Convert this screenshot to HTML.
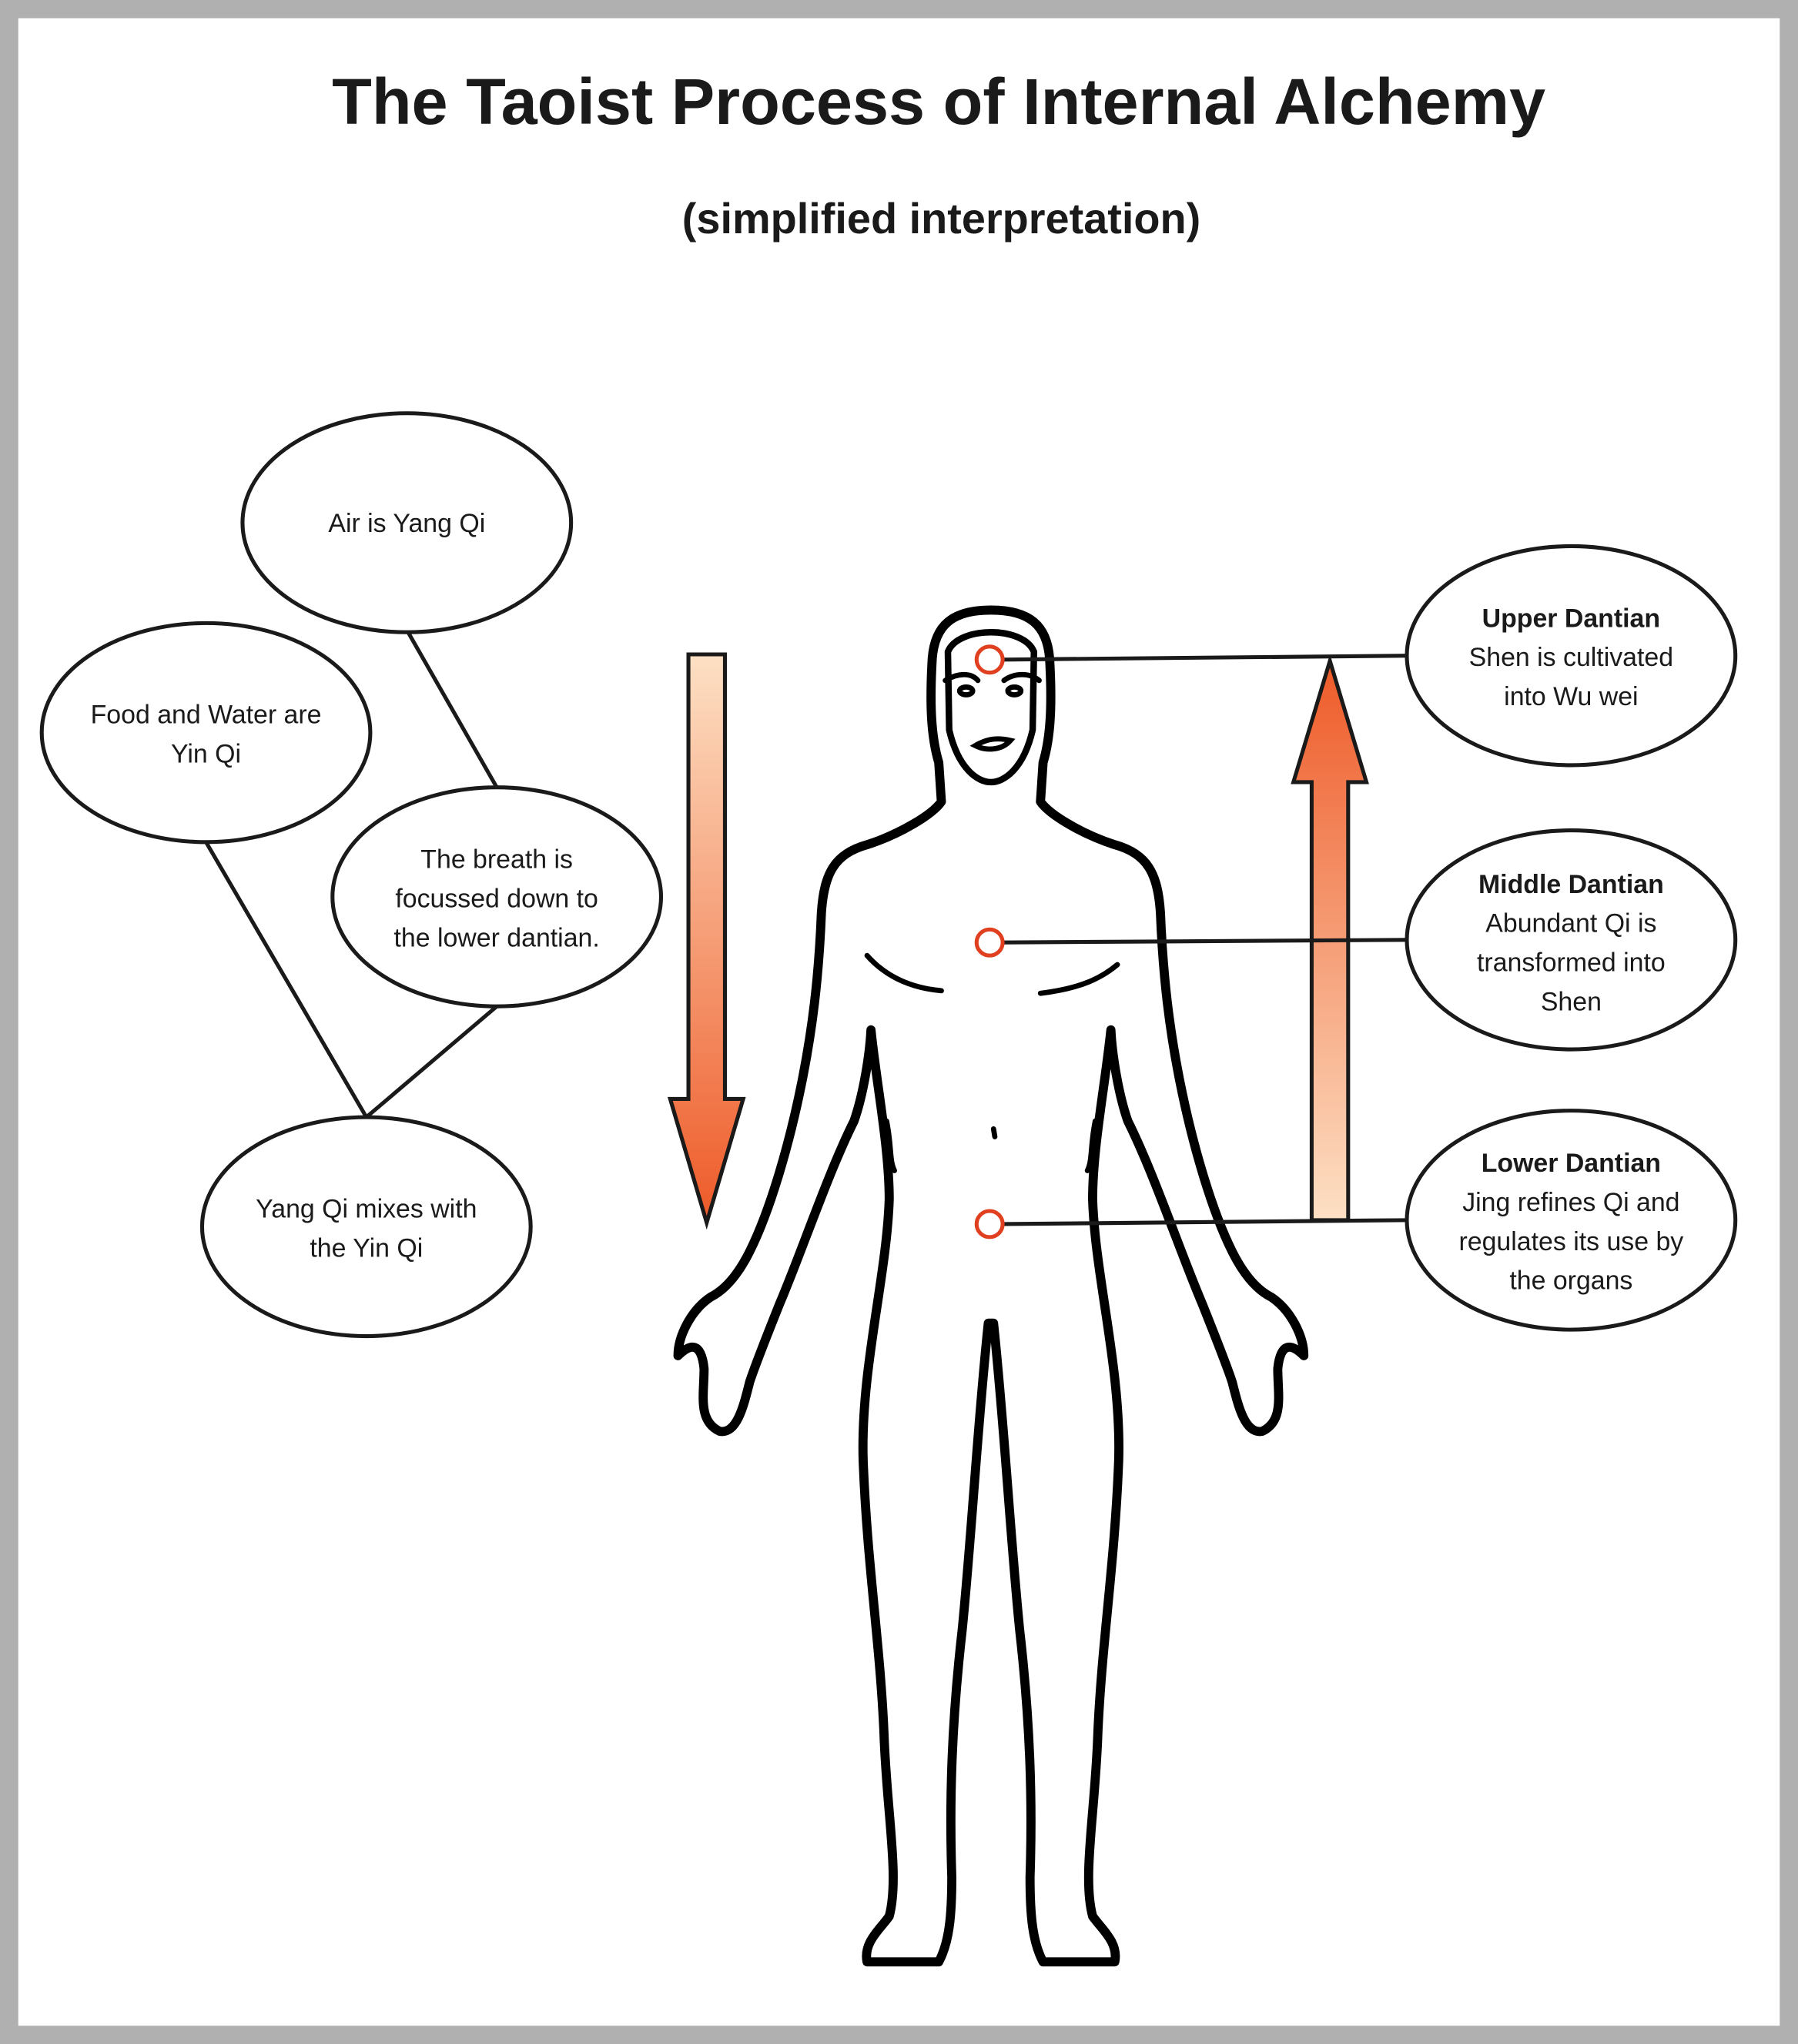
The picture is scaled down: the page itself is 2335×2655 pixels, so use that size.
<!DOCTYPE html>
<html><head><meta charset="utf-8"><style>
html,body{margin:0;padding:0;background:#fff}
svg{display:block}
text{font-family:"Liberation Sans",sans-serif;fill:#1a1a1a}
</style></head><body>
<svg width="2335" height="2655" viewBox="0 0 1379 1568" xmlns="http://www.w3.org/2000/svg">
<defs>
<linearGradient id="gd" x1="0" y1="0" x2="0" y2="1"><stop offset="0" stop-color="#fde0c4"/><stop offset="1" stop-color="#ee5a28"/></linearGradient>
<linearGradient id="gu" x1="0" y1="1" x2="0" y2="0"><stop offset="0" stop-color="#fde0c4"/><stop offset="1" stop-color="#ee5a28"/></linearGradient>
</defs>
<rect x="0" y="0" width="1379" height="1568" fill="#b0b0b0"/>
<rect x="14" y="14" width="1351" height="1540" fill="#fff"/>
<text x="720" y="95" font-size="50" font-weight="bold" text-anchor="middle">The Taoist Process of Internal Alchemy</text>
<text x="722" y="179" font-size="33" font-weight="bold" text-anchor="middle">(simplified interpretation)</text>

<g stroke="#1a1a1a" stroke-width="3" fill="none">
<line x1="313" y1="485" x2="381" y2="604"/>
<line x1="158" y1="646" x2="281" y2="857"/>
<line x1="381" y1="772" x2="281" y2="857"/>
</g>
<g stroke="#1a1a1a" stroke-width="3" fill="#fff">
<ellipse cx="312" cy="401" rx="126" ry="84"/>
<ellipse cx="158" cy="562" rx="126" ry="84"/>
<ellipse cx="381" cy="688" rx="126" ry="84"/>
<ellipse cx="281" cy="941" rx="126" ry="84"/>
<ellipse cx="1205" cy="503" rx="126" ry="84"/>
<ellipse cx="1205" cy="721" rx="126" ry="84"/>
<ellipse cx="1205" cy="936" rx="126" ry="84"/>
</g>
<g font-size="20" text-anchor="middle">
<text x="312" y="408">Air is Yang Qi</text>
<text x="158" y="555">Food and Water are</text><text x="158" y="585">Yin Qi</text>
<text x="381" y="666">The breath is</text><text x="381" y="696">focussed down to</text><text x="381" y="726">the lower dantian.</text>
<text x="281" y="934">Yang Qi mixes with</text><text x="281" y="964">the Yin Qi</text>
<text x="1205" y="481" font-weight="bold">Upper Dantian</text><text x="1205" y="511">Shen is cultivated</text><text x="1205" y="541">into Wu wei</text>
<text x="1205" y="685" font-weight="bold">Middle Dantian</text><text x="1205" y="715">Abundant Qi  is</text><text x="1205" y="745">transformed into</text><text x="1205" y="775">Shen</text>
<text x="1205" y="899" font-weight="bold">Lower Dantian</text><text x="1205" y="929">Jing refines Qi and</text><text x="1205" y="959">regulates its use by</text><text x="1205" y="989">the organs</text>
</g>

<path d="M528 502 L556 502 L556 843 L570 843 L542 938 L514 843 L528 843 Z" fill="url(#gd)" stroke="#1a1a1a" stroke-width="3"/>
<path d="M1006 936 L1034 936 L1034 600 L1048 600 L1020 507 L992 600 L1006 600 Z" fill="url(#gu)" stroke="#1a1a1a" stroke-width="3"/>

<path d="M760 468 C790 468 803 480 805 505 C807 540 806 565 800 585 L798 615 C805 625 830 640 855 648 C880 655 888 670 890 700 C892 750 897 790 905 830 C915 880 930 930 945 960 C955 980 965 990 975 995 C990 1005 1000 1025 1000 1040 C990 1030 982 1030 980 1050 C980 1070 985 1090 968 1098 C955 1100 950 1080 945 1060 C940 1045 930 1020 922 1000 C905 960 885 900 865 860 C858 840 853 810 852 790 C848 830 838 880 838 920 C840 980 860 1050 858 1120 C855 1200 845 1260 842 1330 C840 1390 830 1440 838 1470 C845 1480 858 1490 855 1505 L800 1505 C792 1490 790 1470 790 1440 C792 1380 790 1320 782 1250 C775 1180 770 1090 762 1015 L758 1015 C750 1090 745 1180 738 1250 C730 1320 728 1380 730 1440 C730 1470 728 1490 720 1505 L665 1505 C662 1490 675 1480 682 1470 C690 1440 680 1390 678 1330 C675 1260 665 1200 662 1120 C660 1050 680 980 682 920 C682 880 672 830 668 790 C667 810 662 840 655 860 C635 900 615 960 598 1000 C590 1020 580 1045 575 1060 C570 1080 565 1100 552 1098 C535 1090 540 1070 540 1050 C538 1030 530 1030 520 1040 C520 1025 530 1005 545 995 C555 990 565 980 575 960 C590 930 605 880 615 830 C623 790 628 750 630 700 C632 670 640 655 665 648 C690 640 715 625 722 615 L720 585 C714 565 713 540 715 505 C717 480 730 468 760 468 Z" fill="#fff" stroke="#000" stroke-width="7" stroke-linejoin="round"/>
<path d="M727 500 C735 480 785 480 793 500 L792 560 C785 590 770 600 760 600 C750 600 735 590 728 560 Z" fill="none" stroke="#000" stroke-width="5"/>
<g stroke="#000" stroke-width="4" fill="none" stroke-linecap="round">
<path d="M725 522 C735 516 745 516 750 522"/><path d="M770 522 C778 516 790 516 797 522"/>
<ellipse cx="741" cy="530" rx="5" ry="3"/><ellipse cx="778" cy="530" rx="5" ry="3"/>
<path d="M748 572 C758 566 766 566 775 568 C768 576 756 576 748 572 Z"/>
<path d="M665 733 C680 750 700 758 722 760"/>
<path d="M857 740 C845 750 830 758 798 762"/>
<path d="M762 866 L763 872"/>
<path d="M680 860 C684 880 682 890 686 898"/>
<path d="M840 860 C836 880 838 890 834 898"/>
</g>
<g stroke="#1a1a1a" stroke-width="3" fill="none">
<line x1="769" y1="506" x2="1079" y2="503"/>
<line x1="769" y1="723" x2="1079" y2="721"/>
<line x1="769" y1="939" x2="1079" y2="936"/>
</g>
<g fill="#fff" stroke="#e04020" stroke-width="3">
<circle cx="759" cy="506" r="10"/><circle cx="759" cy="723" r="10"/><circle cx="759" cy="939" r="10"/>
</g>
</svg>
</body></html>
